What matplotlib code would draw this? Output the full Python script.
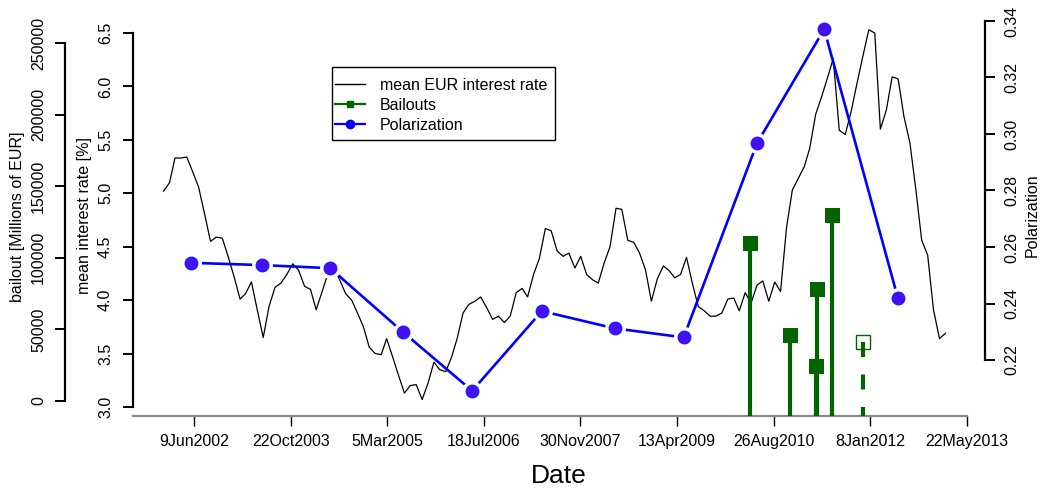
import datetime as dt
import matplotlib
matplotlib.use('Agg')
import matplotlib.pyplot as plt
import matplotlib.dates as mdates
import pandas as pd
from matplotlib.lines import Line2D
from matplotlib.patches import Rectangle

plt.rcParams['font.family'] = ['Liberation Sans', 'DejaVu Sans']
plt.rcParams['font.size'] = 11.5

# monthly mean EUR interest rate [%], Jan 2002 .. Feb 2013
rate = [5.02, 5.10, 5.33, 5.33, 5.34, 5.20, 5.06, 4.81, 4.55, 4.59, 4.58, 4.41,
        4.22, 4.01, 4.06, 4.17, 3.91, 3.65, 3.94, 4.12, 4.16, 4.24, 4.34, 4.28,
        4.13, 4.10, 3.91, 4.08, 4.25, 4.30, 4.19, 4.06, 4.00, 3.88, 3.75, 3.56,
        3.50, 3.49, 3.64, 3.47, 3.30, 3.13, 3.20, 3.21, 3.07, 3.22, 3.42, 3.35,
        3.33, 3.47, 3.64, 3.88, 3.96, 3.99, 4.03, 3.93, 3.82, 3.85, 3.79, 3.85,
        4.07, 4.11, 4.03, 4.24, 4.39, 4.67, 4.65, 4.46, 4.41, 4.44, 4.30, 4.41,
        4.24, 4.19, 4.16, 4.35, 4.50, 4.86, 4.85, 4.56, 4.54, 4.44, 4.28, 3.99,
        4.20, 4.32, 4.28, 4.21, 4.24, 4.40, 4.16, 3.94, 3.90, 3.85, 3.85, 3.88,
        4.01, 4.02, 3.90, 4.07, 3.97, 4.14, 4.18, 3.99, 4.17, 4.08, 4.68, 5.03,
        5.14, 5.25, 5.42, 5.74, 5.90, 6.08, 6.26, 5.59, 5.55, 5.76, 6.03, 6.28,
        6.53, 6.50, 5.60, 5.78, 6.09, 6.07, 5.72, 5.47, 5.03, 4.56, 4.42, 3.91,
        3.64, 3.69]
rate_dates = pd.date_range('2002-01-01', periods=len(rate), freq='MS')

# bailouts [Millions of EUR]; the last one is only announced
bail_dates = ['2010-04-28', '2010-11-21', '2011-04-04', '2011-04-07', '2011-06-26', '2011-11-30']
bail_vals = [110000, 46000, 24400, 78000, 130000, 41400]
bail_done = [True, True, True, True, True, False]

# yearly polarization
pol_dates = ['2002-05-23', '2003-05-24', '2004-05-13', '2005-05-23', '2006-05-18', '2007-05-14',
             '2008-05-25', '2009-05-17', '2010-06-01', '2011-05-15', '2012-05-30']
pol_vals = [0.2544, 0.2536, 0.2525, 0.2300, 0.2091, 0.2373, 0.2312, 0.2280, 0.2967, 0.3371, 0.2421]

tick_dates = ['2002-06-09', '2003-10-22', '2005-03-05', '2006-07-18', '2007-11-30',
              '2009-04-13', '2010-08-26', '2012-01-08', '2013-05-22']
tick_labels = ['9Jun2002', '22Oct2003', '5Mar2005', '18Jul2006', '30Nov2007',
               '13Apr2009', '26Aug2010', '8Jan2012', '22May2013']

rate_ticks = [3.0, 3.5, 4.0, 4.5, 5.0, 5.5, 6.0, 6.5]
bail_ticks = [0, 50000, 100000, 150000, 200000, 250000]
pol_ticks = [0.22, 0.24, 0.26, 0.28, 0.30, 0.32, 0.34]

green = '#006400'
W, H = 1041, 490
fig = plt.figure(figsize=(W / 100, H / 100), dpi=100)
ax = fig.add_axes([133 / W, 74 / H, 852 / W, 406 / H])
ax_b = ax.twinx()
ax_p = ax.twinx()

to_num = lambda ds: mdates.date2num(pd.to_datetime(ds))
t0 = mdates.date2num(dt.date(2002, 6, 9))
ax.set_xlim(t0 - 317.4, t0 + 4094.8)

ax.set_ylim(2.9158, 6.7153)
ax_b.set_ylim(-10475, 273045)
ax_p.set_ylim(0.20018, 0.34389)

# interest rate
ax.plot(mdates.date2num(rate_dates), rate, color='black', lw=0.9)

# bailouts as vertical bars from the bottom
yb = ax_b.get_ylim()[0]
for d, v, ok in zip(bail_dates, bail_vals, bail_done):
    x = to_num(d)
    if ok:
        ax_b.vlines(x, yb, v, color=green, lw=3.0)
        ax_b.plot(x, v, 's', color=green, ms=10.8, mew=0)
    else:
        ax_b.vlines(x, v, yb, color=green, lw=3.0, linestyles=(0, (3.6, 4.2)))
        ax_b.plot(x, v, 's', mfc='none', mec=green, ms=9.4, mew=1.0)

# polarization, line broken around the points
px = to_num(pol_dates)
ax_p.plot(px, pol_vals, color='#0000ff', lw=1.9)
ax_p.plot(px, pol_vals, 'o', color='white', ms=15.0, mew=0)
ax_p.plot(px, pol_vals, 'o', mfc='#4a0cf2', mec='#1f1fff', ms=8.8, mew=1.2)

# spines
for a in (ax, ax_b, ax_p):
    a.spines['top'].set_visible(False)
ax.spines['right'].set_visible(False)
ax.spines['left'].set_bounds(3.0, 6.5)
ax.spines['bottom'].set_bounds(ax.get_xlim()[0], to_num(tick_dates[-1]))
ax.spines['bottom'].set_color('#8a8a8a')
ax.spines['bottom'].set_linewidth(1.6)

ax_b.spines['right'].set_visible(False)
ax_b.spines['bottom'].set_visible(False)
ax_b.spines['left'].set_visible(True)
ax_b.spines['left'].set_position(('outward', 49))
ax_b.spines['left'].set_bounds(0, 250000)
ax_b.yaxis.set_ticks_position('left')
ax_b.yaxis.set_label_position('left')

ax_p.spines['left'].set_visible(False)
ax_p.spines['bottom'].set_visible(False)
ax_p.spines['right'].set_bounds(0.22, 0.34)

for a, side in ((ax, 'left'), (ax_b, 'left'), (ax_p, 'right')):
    a.spines[side].set_linewidth(1.6)

ax.set_xticks(to_num(tick_dates), tick_labels)
ax.tick_params(axis='x', length=7.2, width=1.0, pad=6)

ax.set_yticks(rate_ticks, [f'{v:.1f}' for v in rate_ticks], rotation=90, va='center')
ax_b.set_yticks(bail_ticks, [str(v) for v in bail_ticks], rotation=90, va='center')
ax_p.set_yticks(pol_ticks, [f'{v:.2f}' for v in pol_ticks], rotation=90, va='center')
ax.tick_params(axis='y', length=7.2, width=1.4, pad=7.2)
ax_b.tick_params(axis='y', length=7.2, width=1.4, pad=6.5)
ax_p.tick_params(axis='y', length=7.2, width=1.4, pad=6.5)

ax.set_xlabel('Date', fontsize=19, va='center')
ax.xaxis.set_label_coords(0.5, (416 - 476) / 406)
ax.set_ylabel('mean interest rate [%]', va='center')
ax.yaxis.set_label_coords((85 - 133) / 852, (416 - 215) / 406)
ax_b.set_ylabel('bailout [Millions of EUR]', va='center')
ax_b.yaxis.set_label_coords((18 - 133) / 852, (416 - 217) / 406)
ax_p.set_ylabel('Polarization', va='center', rotation=90)
ax_p.yaxis.set_label_coords((1032 - 133) / 852, (416 - 215) / 406)

# legend: entries without frame, box drawn separately
handles = [Line2D([], [], color='black', lw=1.0),
           Line2D([], [], color=green, lw=1.6, marker='s', ms=5),
           Line2D([], [], color='#0000ff', lw=1.6, marker='o', ms=6)]
ax_p.legend(handles, ['mean EUR interest rate', 'Bailouts', 'Polarization'],
            loc='upper left', bbox_to_anchor=(335 / W, 1 - 78 / H),
            bbox_transform=fig.transFigure, frameon=False, borderaxespad=0,
            handlelength=1.9, handletextpad=0.9, labelspacing=0.3, borderpad=0,
            fontsize=11.5)
fig.add_artist(Rectangle((332 / W, 1 - 140 / H), 223 / W, 73 / H,
                         transform=fig.transFigure, fill=False, ec='black', lw=1.0))

fig.savefig('out.png', dpi=100)
